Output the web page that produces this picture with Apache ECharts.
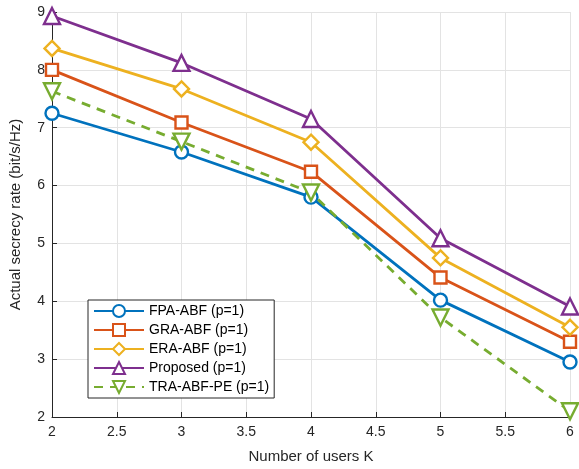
<!DOCTYPE html>
<html><head><meta charset="utf-8">
<script src="https://cdn.jsdelivr.net/npm/echarts@6/dist/echarts.min.js"></script>
<style>html,body{margin:0;padding:0;background:#fff}#c{width:579px;height:469px}</style>
</head><body><div id="c"></div>
<script>
const users = [2, 3, 4, 5, 6];
const fpa = [7.25, 6.58, 5.80, 4.02, 2.95];
const gra = [8.00, 7.09, 6.24, 4.41, 3.30];
const era = [8.37, 7.67, 6.75, 4.75, 3.55];
const proposed = [8.93, 8.12, 7.15, 5.09, 3.91];
const tra = [7.63, 6.76, 5.88, 3.72, 2.10];
const names = ['FPA-ABF (p=1)', 'GRA-ABF (p=1)', 'ERA-ABF (p=1)', 'Proposed (p=1)', 'TRA-ABF-PE (p=1)'];
const colors = ['#0072BD', '#D95319', '#EDB120', '#7E2F8E', '#77AC30'];
const symbols = ['circle', 'rect', 'diamond', 'triangle', 'triangle'];
const rotates = [0, 0, 0, 0, 180];
const sizes = [13, 12, 15, 16, 16];
const all = [fpa, gra, era, proposed, tra];
const font = 'Liberation Sans, Arial, Helvetica, sans-serif';
const chart = echarts.init(document.getElementById('c'));
const series = all.map((d, i) => ({
  name: names[i], type: 'line',
  data: users.map((u, j) => [u, d[j]]),
  symbol: symbols[i], symbolSize: sizes[i], symbolRotate: rotates[i],
  showAllSymbol: true,
  lineStyle: { color: colors[i], width: 2.8, type: i === 4 ? [9, 7] : 'solid' },
  itemStyle: { color: '#fff', borderColor: colors[i], borderWidth: 2.4 },
  emphasis: { disabled: true },
  z: i === 4 ? 3 : 2
}));
chart.setOption({
  animation: false,
  backgroundColor: '#fff',
  grid: { left: 47, right: 9, top: 12, bottom: 50, containLabel: false },
  xAxis: {
    type: 'value', min: 2, max: 6, interval: 0.5,
    name: 'Number of users K', nameLocation: 'middle', nameGap: 32,
    nameTextStyle: { fontFamily: font, fontSize: 15, color: '#262626' },
    axisLine: { show: true, lineStyle: { color: '#262626', width: 1 } },
    axisTick: { show: true, inside: true, length: 5, lineStyle: { color: '#262626' } },
    axisLabel: { fontFamily: font, fontSize: 14, color: '#262626', margin: 8 },
    splitLine: { show: true, lineStyle: { color: '#e3e3e3', width: 1 } }
  },
  yAxis: {
    type: 'value', min: 2, max: 9, interval: 1,
    name: 'Actual secrecy rate (bit/s/Hz)', nameLocation: 'middle', nameGap: 29,
    nameTextStyle: { fontFamily: font, fontSize: 15, color: '#262626' },
    axisLine: { show: true, lineStyle: { color: '#262626', width: 1 } },
    axisTick: { show: true, inside: true, length: 5, lineStyle: { color: '#262626' } },
    axisLabel: { fontFamily: font, fontSize: 14, color: '#262626', margin: 7 },
    splitLine: { show: true, lineStyle: { color: '#e3e3e3', width: 1 } }
  },
  legend: {
    orient: 'vertical', left: 88, top: 300,
    backgroundColor: '#fff', borderColor: '#262626', borderWidth: 1,
    padding: [4, 5, 4, 5], itemGap: 5, itemWidth: 50, itemHeight: 15,
    textStyle: { fontFamily: font, fontSize: 14, color: '#000' },
    data: names
  },
  series: series
});
</script></body></html>
